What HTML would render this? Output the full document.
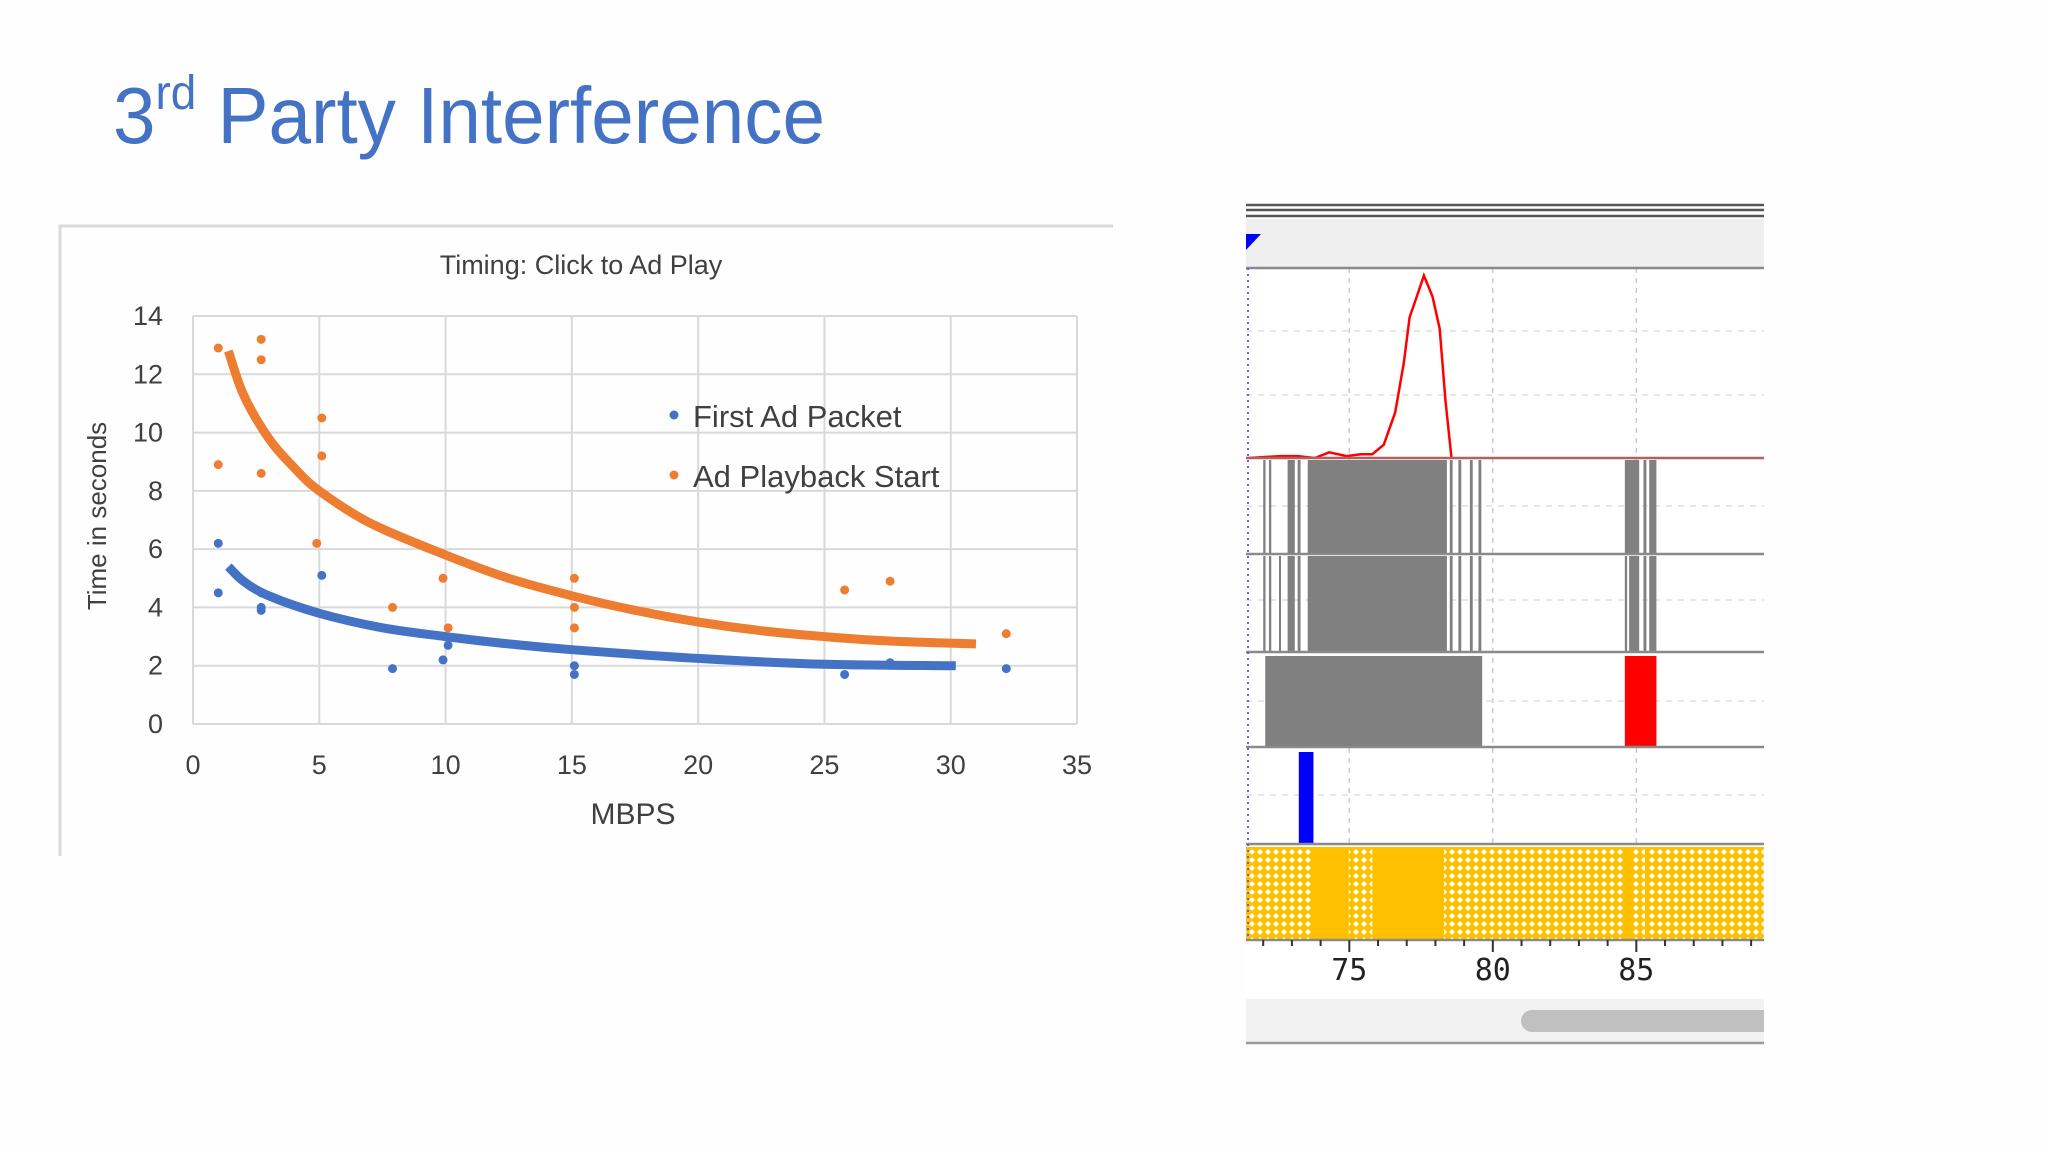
<!DOCTYPE html>
<html><head><meta charset="utf-8"><style>
html,body{margin:0;padding:0;background:#fff;}
svg{display:block;font-family:"Liberation Sans",sans-serif;}
</style></head><body>
<svg id="s" width="2048" height="1152" viewBox="0 0 2048 1152" xmlns="http://www.w3.org/2000/svg">
<rect x="0" y="0" width="2048" height="1152" fill="#fefefe"/>
<text x="113" y="143" font-size="80" fill="#4472c4" textLength="712" lengthAdjust="spacingAndGlyphs">3<tspan font-size="48" dy="-34">rd</tspan><tspan dy="34"> Party Interference</tspan></text>
<g id="left">
<path d="M60 856 V226 H1113" fill="none" stroke="#dadada" stroke-width="3"/>
<text x="581" y="274" font-size="27" fill="#404040" text-anchor="middle">Timing: Click to Ad Play</text>
<text x="633" y="824" font-size="30" fill="#404040" text-anchor="middle">MBPS</text>
<text transform="translate(106,516) rotate(-90)" font-size="26" fill="#404040" text-anchor="middle">Time in seconds</text>
</g>
<g id="right"></g>
</svg>
<script>
// ---- scatter chart data ----
const xTicks = [0,5,10,15,20,25,30,35];
const yTicks = [0,2,4,6,8,10,12,14];
const blueX = [1,1,2.7,2.7,2.7,5.1,7.9,9.9,10.1,15.1,15.1,25.8,27.6,32.2];
const blueY = [6.2,4.5,4.5,4.0,3.9,5.1,1.9,2.2,2.7,2.0,1.7,1.7,2.1,1.9];
const orangeX = [1,2.7,2.7,1,2.7,5.1,5.1,4.9,7.9,9.9,10.1,15.1,15.1,15.1,25.8,27.6,32.2];
const orangeY = [12.9,13.2,12.5,8.9,8.6,10.5,9.2,6.2,4.0,5.0,3.3,5.0,4.0,3.3,4.6,4.9,3.1];
const orangeTrendX = [1.4,2,3,4,5,7,10,12.5,15,17.5,20,22.5,25,27.5,31];
const orangeTrendY = [12.8,11.3,9.8,8.8,8.0,6.9,5.8,5.0,4.4,3.9,3.5,3.2,3.0,2.85,2.75];
const blueTrendX = [1.4,2,3,5,7.5,10,12.5,15,20,25,30.2];
const blueTrendY = [5.4,4.9,4.4,3.8,3.3,3.0,2.75,2.55,2.25,2.05,2.0];
// ---- timeline data ----
const timeTicks = [75,80,85];
const redT = [71.5,72.6,73.2,73.8,74.3,74.9,75.4,75.8,76.2,76.6,76.9,77.1,77.35,77.6,77.9,78.15,78.35,78.56];
const redV = [0,0.01,0.01,0.0,0.03,0.01,0.02,0.02,0.07,0.24,0.5,0.74,0.85,0.96,0.85,0.68,0.3,0];
const row2Start = [72.0,72.2,72.85,73.2,73.55,78.5,78.8,79.2,79.5,84.6,85.25,85.45];
const row2End   = [72.08,72.28,73.1,73.3,78.4,78.6,78.9,79.3,79.6,85.1,85.35,85.7];
const row3Start = [72.0,72.2,72.55,72.85,73.2,73.55,78.5,78.8,79.2,79.5,84.6,84.75,85.25,85.45];
const row3End   = [72.08,72.28,72.62,73.1,73.3,78.4,78.6,78.9,79.3,79.6,84.68,85.1,85.35,85.7];
const row4Start = [72.07];
const row4End = [79.63];
const row4RedStart = [84.6];
const row4RedEnd = [85.7];
const row5Start = [73.24];
const row5End = [73.75];
const row6Start = [73.7,75.8,84.6,85.3];
const row6End = [74.98,78.3,84.8,85.4];

const NS = "http://www.w3.org/2000/svg";
const svg = document.getElementById('s');
function mk(tag, attrs, parent){const e=document.createElementNS(NS,tag);for(const k in attrs)e.setAttribute(k,attrs[k]);(parent||svg).appendChild(e);return e;}

const L=193,R=1077,T=316,B=724;
const sx = v => L + (v/35)*(R-L);
const sy = v => B - (v/14)*(B-T);
const left = document.getElementById('left');
xTicks.forEach(t=>{
  const g=mk('line',{x1:sx(t),x2:sx(t),y1:T,y2:B,stroke:'#d9d9d9','stroke-width':2},left);
  
  
  const tx=mk('text',{x:sx(t),y:774,'font-size':27,fill:'#404040','text-anchor':'middle'},left);
  tx.textContent=t;
  
  
});
yTicks.forEach(t=>{
  const g=mk('line',{x1:L,x2:R,y1:sy(t),y2:sy(t),stroke:'#d9d9d9','stroke-width':2},left);
  
  
  const tx=mk('text',{x:163,y:sy(t)+9,'font-size':27,fill:'#404040','text-anchor':'end'},left);
  tx.textContent=t;
  
  
});
function smooth(pts){
  let d='M'+pts[0][0].toFixed(1)+' '+pts[0][1].toFixed(1);
  for(let i=0;i<pts.length-1;i++){
    const p0=pts[Math.max(0,i-1)],p1=pts[i],p2=pts[i+1],p3=pts[Math.min(pts.length-1,i+2)];
    const c1=[p1[0]+(p2[0]-p0[0])/6,p1[1]+(p2[1]-p0[1])/6];
    const c2=[p2[0]-(p3[0]-p1[0])/6,p2[1]-(p3[1]-p1[1])/6];
    d+=' C'+c1[0].toFixed(1)+' '+c1[1].toFixed(1)+' '+c2[0].toFixed(1)+' '+c2[1].toFixed(1)+' '+p2[0].toFixed(1)+' '+p2[1].toFixed(1);
  }
  return d;
}
function trend(xs,ys,color,name){
  const pts=xs.map((x,i)=>[sx(x),sy(ys[i])]);
  const p=mk('path',{d:smooth(pts),fill:'none',stroke:color,'stroke-width':9},left);
  
  
}
trend(orangeTrendX,orangeTrendY,'#ed7d31','trendline-ad-playback-start');
trend(blueTrendX,blueTrendY,'#4472c4','trendline-first-ad-packet');
blueX.forEach((x,i)=>{
  const c=mk('circle',{cx:sx(x),cy:sy(blueY[i]),r:4.5,fill:'#4472c4'},left);
  
  
});
orangeX.forEach((x,i)=>{
  const c=mk('circle',{cx:sx(x),cy:sy(orangeY[i]),r:4.5,fill:'#ed7d31'},left);
  
  
});
// legend
const lg1=mk('circle',{cx:674,cy:415,r:4.5,fill:'#4472c4'},left);


const lt1=mk('text',{x:693,y:427,'font-size':31,fill:'#404040'},left);
lt1.textContent='First Ad Packet';


const lg2=mk('circle',{cx:674,cy:475,r:4.5,fill:'#ed7d31'},left);


const lt2=mk('text',{x:693,y:487,'font-size':31,fill:'#404040'},left);
lt2.textContent='Ad Playback Start';



// timeline panel
const right=document.getElementById('right');
const PL=1246, PR=1764;
const tx = t => PL + (t-71.4)*28.7;
const defs=mk('defs',{},svg);
const pat=mk('pattern',{id:'hatch',width:8,height:8,patternUnits:'userSpaceOnUse'},defs);
mk('rect',{width:8,height:8,fill:'#ffc000'},pat);
mk('path',{d:'M4 1 L7 4 L4 7 L1 4 Z',fill:'#fff'},pat);
const bg=mk('rect',{x:PL,y:202,width:PR-PL,height:840,fill:'#fff'},right);


[205,210,216].forEach(y=>{const l=mk('line',{x1:PL,x2:PR,y1:y,y2:y,stroke:'#555','stroke-width':2.5},right);
  
  });
const hb=mk('rect',{x:PL,y:219,width:PR-PL,height:49,fill:'#efefef'},right);


const tri=mk('path',{d:'M1246 234 H1261 L1246 250 Z',fill:'#0000ff'},right);


const rowsY=[268,458,554,652,747,844,940];
timeTicks.forEach(t=>{const l=mk('line',{x1:tx(t),x2:tx(t),y1:268,y2:940,stroke:'#ccc','stroke-width':1.5,'stroke-dasharray':'5 5'},right);
  
  });
[331,395,506,600,701,795].forEach(y=>{const l=mk('line',{x1:PL,x2:PR,y1:y,y2:y,stroke:'#ddd','stroke-width':1.5,'stroke-dasharray':'6 6'},right);
  
  });
function spans(st,en,y0,y1,color,name){
  st.forEach((s,i)=>{const r=mk('rect',{x:tx(s),y:y0,width:tx(en[i])-tx(s),height:y1-y0,fill:color},right);
    
    });
}
spans(row2Start,row2End,460,553,'#808080','row2-bar');
spans(row3Start,row3End,556,651,'#808080','row3-bar');
spans(row4Start,row4End,656,746,'#808080','row4-bar');
spans(row4RedStart,row4RedEnd,656,746,'#ff0000','row4-red-bar');
spans(row5Start,row5End,752,843,'#0000ff','row5-blue-bar');
const hr=mk('rect',{x:PL,y:847,width:PR-PL,height:92,fill:'url(#hatch)'},right);


spans(row6Start,row6End,847,939,'#ffc000','row6-solid');
const ry = v => 458 - v*190;
const rd=redT.map((t,i)=>(i?'L':'M')+tx(t).toFixed(1)+' '+ry(redV[i]).toFixed(1)).join(' ');
const rl=mk('path',{d:rd,fill:'none',stroke:'#ff0000','stroke-width':2.5},right);


rowsY.forEach((y,i)=>{const l=mk('line',{x1:PL,x2:PR,y1:y,y2:y,stroke:i==1?'#b06060':'#8a8a8a','stroke-width':2.5},right);
  
  });
const vl=mk('line',{x1:1248,x2:1248,y1:268,y2:940,stroke:'#6060ff','stroke-width':2,'stroke-dasharray':'2 4'},right);


for(let t=72;t<=89;t++){
  const l=mk('line',{x1:tx(t),x2:tx(t),y1:940,y2:t%5==0?952:946,stroke:'#333','stroke-width':2},right);
  
  
}
timeTicks.forEach(t=>{const e=mk('text',{x:tx(t),y:980,'font-size':30,fill:'#222','text-anchor':'middle','font-family':'"DejaVu Sans Mono",monospace'},right);
  e.textContent=t;
  
  });
const sb=mk('rect',{x:PL,y:999,width:PR-PL,height:43,fill:'#f2f2f2'},right);


const th=mk('rect',{x:1521,y:1010,width:260,height:22,rx:11,fill:'#c0c0c0'},right);


const bl=mk('line',{x1:PL,x2:PR,y1:1043,y2:1043,stroke:'#999','stroke-width':2.5},right);


const cov=mk('rect',{x:PR,y:195,width:40,height:860,fill:'#fefefe'},right);


</script>
</body></html>
